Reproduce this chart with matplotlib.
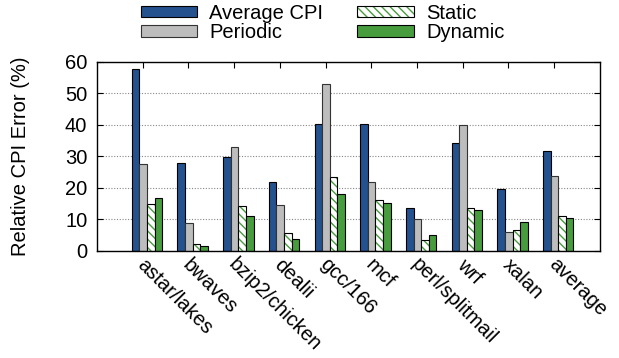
import numpy as np
import matplotlib
matplotlib.use("Agg")
import matplotlib.pyplot as plt
import matplotlib.transforms as mtransforms
from matplotlib.patches import Patch

plt.rcParams['font.family'] = ['Liberation Sans', 'DejaVu Sans']
plt.rcParams['hatch.linewidth'] = 1.0

benchmarks = ['astar/lakes', 'bwaves', 'bzip2/chicken', 'dealii', 'gcc/166',
              'mcf', 'perl/splitmail', 'wrf', 'xalan', 'average']
avg_cpi = [57.8, 27.8, 29.7, 21.9, 40.4, 40.4, 13.8, 34.3, 19.6, 31.8]
periodic = [27.6, 9.0, 33.1, 14.6, 52.9, 21.8, 10.2, 40.1, 5.9, 23.9]
static = [14.9, 2.1, 14.2, 5.7, 23.6, 16.1, 3.6, 13.7, 6.6, 11.2]
dynamic = [16.7, 1.7, 11.0, 3.9, 18.1, 15.2, 5.2, 12.9, 9.2, 10.4]

blue = '#24528f'
gray = '#bdbdbd'
green = '#479c3e'
fs = 14.5

fig = plt.figure(figsize=(6.19, 3.58), dpi=100)
ax = fig.add_axes([0.1567, 0.2989, 0.8123, 0.5281])

x = np.arange(1, len(benchmarks) + 1)
w = 0.166
start = -0.24 + w / 2
lw = 0.8

ax.bar(x + start, avg_cpi, w, color=blue, edgecolor='black', linewidth=lw)
ax.bar(x + start + w, periodic, w, color=gray, edgecolor='#333333', linewidth=lw)
ax.bar(x + start + 2 * w, static, w, color='white', edgecolor=green,
       hatch='\\\\\\\\', linewidth=0)
ax.bar(x + start + 2 * w, static, w, color='none', edgecolor='black', linewidth=lw)
ax.bar(x + start + 3 * w, dynamic, w, color=green, edgecolor='black', linewidth=lw)

ax.set_xlim(0, 11)
ax.set_ylim(0, 60)
ax.set_yticks(range(0, 61, 10))
ax.set_xticks(x)
ax.set_xticklabels([])
ax.set_axisbelow(True)
ax.yaxis.grid(True, linestyle=(0, (1, 1.5)), color='#888888', linewidth=0.8)
ax.tick_params(axis='both', direction='in', length=4, width=0.8,
               top=True, right=True, labelsize=fs)
ax.tick_params(axis='y', pad=7)
for s in ax.spines.values():
    s.set_linewidth(1.0)

# rotated benchmark names hanging below each group
offset = mtransforms.ScaledTranslation(0.04, -0.04, fig.dpi_scale_trans)
trans = mtransforms.blended_transform_factory(ax.transData, ax.transAxes) + offset
for xi, name in zip(x, benchmarks):
    ax.text(xi, 0, name, transform=trans, rotation=-45, rotation_mode='anchor',
            ha='left', va='top', fontsize=fs)

ax.set_ylabel('Relative CPI Error (%)', fontsize=fs)
ax.yaxis.set_label_coords(-0.133, 0.5)

handles = [
    Patch(facecolor=blue, edgecolor='black', linewidth=lw),
    Patch(facecolor=gray, edgecolor='#333333', linewidth=lw),
    (Patch(facecolor='white', edgecolor=green, hatch='\\\\\\\\', linewidth=0),
     Patch(facecolor='none', edgecolor='black', linewidth=lw)),
    Patch(facecolor=green, edgecolor='black', linewidth=lw),
]
labels = ['Average CPI', 'Periodic', 'Static', 'Dynamic']
fig.legend(handles, labels, ncol=2, loc='center', bbox_to_anchor=(0.521, 0.936),
           frameon=False, fontsize=fs, handlelength=2.8, handleheight=0.5,
           handletextpad=0.6, columnspacing=1.7, labelspacing=0.02,
           borderpad=0, borderaxespad=0)

fig.savefig('out.png', dpi=100)
